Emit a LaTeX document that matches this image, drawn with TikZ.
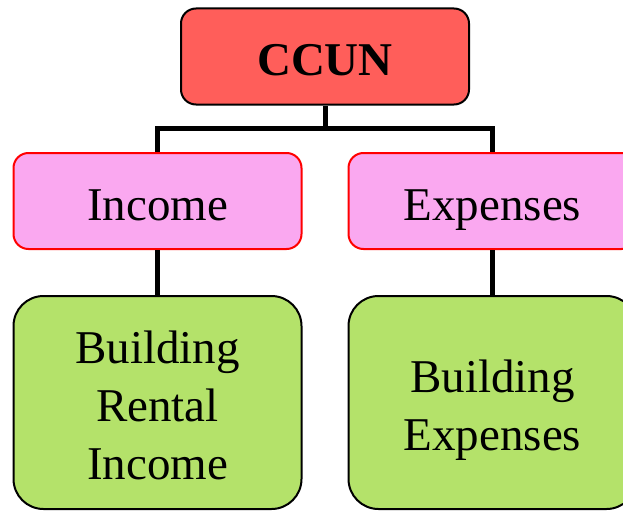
\documentclass[tikz,border=0pt]{standalone}
\usepackage{fontspec}
\setmainfont{Liberation Serif}
\definecolor{topred}{RGB}{255,94,90}
\definecolor{midpink}{RGB}{250,168,240}
\definecolor{leafgreen}{RGB}{180,226,106}
\newcommand\lstrut{\rule[-12pt]{0pt}{62pt}}
\newcommand\boxfont{\fontsize{47}{58}\selectfont\lineskiplimit -100pt\relax}
\tikzset{
  box/.style={draw, line width=2pt, inner sep=0pt, minimum width=288pt, align=center,
              font=\boxfont},
  topbox/.style={box, fill=topred, draw=black, rounded corners=15pt, minimum height=96pt, font=\boxfont\bfseries},
  midbox/.style={box, fill=midpink, draw=red, rounded corners=15pt, minimum height=96pt},
  leafbox/.style={box, fill=leafgreen, draw=black, rounded corners=30pt, minimum height=213pt},
  conn/.style={line width=5pt, draw=black}
}
\begin{document}
\begin{tikzpicture}[x=1pt,y=-1pt]
\useasboundingbox (0,0) rectangle (623,511);
\clip (0,0) rectangle (623,511);
\node[topbox] (top) at (325,56.5) {\lstrut CCUN};
\node[midbox] (income) at (157.5,201) {\lstrut Income};
\node[midbox] (expenses) at (492.5,201) {\lstrut Expenses};
\node[leafbox] (bl) at (157.5,402.5) {\lstrut Building\\\lstrut Rental\\\lstrut Income};
\node[leafbox] (br) at (492.5,402.5) {\lstrut Building\\\lstrut Expenses};
\coordinate (bus) at (325,128);
\draw[conn] (top.south) -- (bus);
\draw[conn] (income.north) |- (bus) -| (expenses.north);
\draw[conn] (income.south) -- (bl.north);
\draw[conn] (expenses.south) -- (br.north);
\end{tikzpicture}
\end{document}
